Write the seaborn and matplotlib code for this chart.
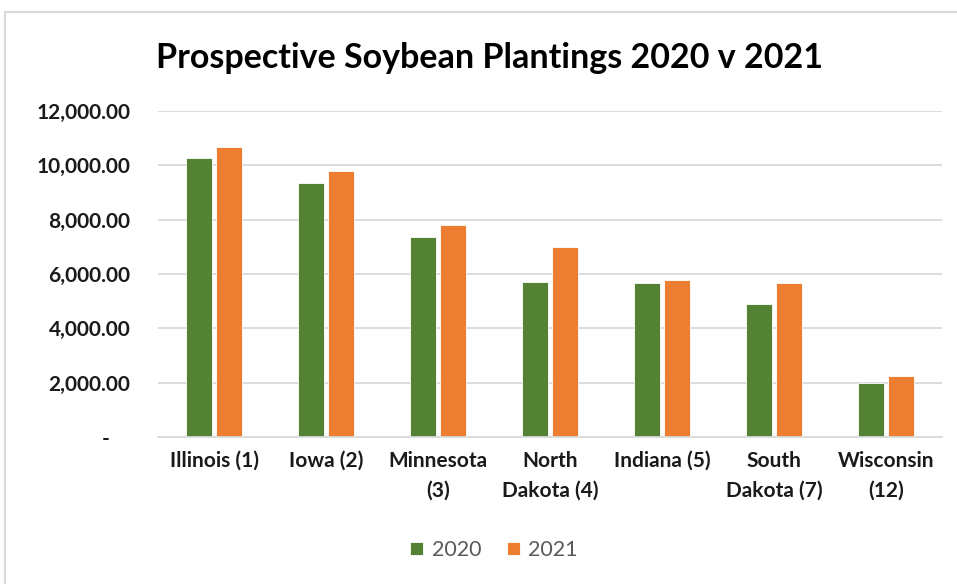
import matplotlib
matplotlib.use("Agg")
import matplotlib.pyplot as plt
import seaborn as sns
import pandas as pd
from matplotlib.ticker import FuncFormatter
from matplotlib.patches import Rectangle

states = ["Illinois (1)", "Iowa (2)", "Minnesota\n(3)", "North\nDakota (4)",
          "Indiana (5)", "South\nDakota (7)", "Wisconsin\n(12)"]
values_2020 = [10260, 9350, 7370, 5720, 5670, 4910, 1975]
values_2021 = [10670, 9780, 7800, 7000, 5770, 5670, 2235]
years = ["2020", "2021"]
yticks = [0, 2000, 4000, 6000, 8000, 10000, 12000]

df = pd.DataFrame({
    "state": states * 2,
    "year": [years[0]] * len(states) + [years[1]] * len(states),
    "value": values_2020 + values_2021,
})

sns.set_theme(style="white")
plt.rcParams["font.family"] = ["Lato", "DejaVu Sans"]

fig = plt.figure(figsize=(9.57, 5.84), dpi=100)
fig.patches.append(Rectangle((5 / 957, -0.01), 1.0, 1 - 12 / 584 + 0.01,
                             transform=fig.transFigure, fill=False,
                             edgecolor="#d9d9d9", linewidth=1.5))
ax = fig.add_axes([158 / 957, 1 - 437 / 584, (942 - 158) / 957, (437 - 111) / 584])

sns.barplot(data=df, x="state", y="value", hue="year", ax=ax,
            palette={"2020": "#548235", "2021": "#ED7D31"}, saturation=1,
            width=0.54, gap=0.14, edgecolor="white", linewidth=0.6,
            legend=True)

ax.set_ylim(0, 12000)
ax.set_yticks(yticks)
ax.yaxis.set_major_formatter(FuncFormatter(lambda v, p: "-    " if v == 0 else f"{v:,.2f}"))
ax.grid(axis="y", color="#d9d9d9", linewidth=1.3)
ax.set_axisbelow(True)
for s in ["left", "right", "top"]:
    ax.spines[s].set_visible(False)
ax.spines["bottom"].set_color("#d9d9d9")
ax.spines["bottom"].set_linewidth(1.3)
ax.set_xlabel("")
ax.set_ylabel("")
ax.tick_params(axis="both", length=0)
ax.tick_params(axis="y", pad=20)
ax.tick_params(axis="x", pad=10)
for lab in ax.get_yticklabels():
    lab.set_fontweight("bold")
    lab.set_fontsize(15)
    lab.set_color("#1a1a1a")
    lab.set_horizontalalignment("right")
for lab in ax.get_xticklabels():
    lab.set_fontweight("bold")
    lab.set_fontsize(15)
    lab.set_color("#1a1a1a")
    lab.set_linespacing(1.6)

fig.text(0.512, 1 - 58 / 584, "Prospective Soybean Plantings 2020 v 2021",
         ha="center", va="center", fontsize=24.5, fontweight="bold", color="black")

leg = ax.legend(loc="center", bbox_to_anchor=(494 / 957, 1 - 550 / 584),
                bbox_transform=fig.transFigure, ncol=2, frameon=False,
                fontsize=15.5, handlelength=0.6, handleheight=0.6,
                handletextpad=0.4, columnspacing=1.2)
for t in leg.get_texts():
    t.set_color("#595959")

fig.savefig("out.png", dpi=100)
